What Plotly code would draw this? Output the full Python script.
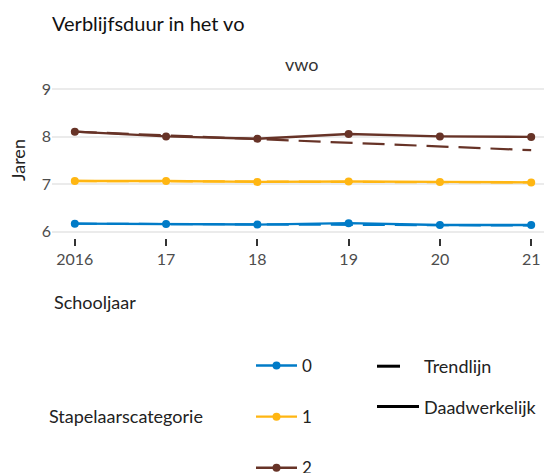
import plotly.graph_objects as go

years = [2016, 2017, 2018, 2019, 2020, 2021]
year_labels = ["2016", "17", "18", "19", "20", "21"]
categories = ["0", "1", "2"]
actual_0 = [6.17, 6.16, 6.15, 6.18, 6.14, 6.14]
actual_1 = [7.07, 7.07, 7.05, 7.06, 7.05, 7.04]
actual_2 = [8.11, 8.01, 7.96, 8.06, 8.01, 8.00]
trend_0 = [6.17, 6.16, 6.16, 6.15, 6.14, 6.13]
trend_1 = [7.07, 7.07, 7.06, 7.05, 7.05, 7.04]
trend_2 = [8.11, 8.03, 7.95, 7.87, 7.80, 7.72]
colors = ["#007BC7", "#FFB612", "#673327"]

FONT = "Lato"
W, H = 552, 473
L, R, T, B = 44, 6, 72, 243
PW, PH = W - L - R, H - T - B


def px(xp):
    return (xp - L) / PW


def py(yp):
    return (H - B - yp) / PH


fig = go.Figure()

actuals = [actual_0, actual_1, actual_2]
trends = [trend_0, trend_1, trend_2]

for i, cat in enumerate(categories):
    fig.add_trace(go.Scatter(
        x=years, y=trends[i], mode="lines",
        line=dict(color=colors[i], width=2.2, dash="22px,10px"),
        showlegend=False, hoverinfo="skip"))

for i, cat in enumerate(categories):
    fig.add_trace(go.Scatter(
        x=years, y=actuals[i], mode="lines+markers", name=cat,
        line=dict(color=colors[i], width=2.4),
        marker=dict(color=colors[i], size=8),
        legendgroup="g" + cat, legend="legend"))

fig.add_trace(go.Scatter(x=[None], y=[None], mode="lines", name="Trendlijn",
                         line=dict(color="black", width=3, dash="23px,40px"),
                         legend="legend2", legendgroup="t"))
fig.add_trace(go.Scatter(x=[None], y=[None], mode="lines", name="Daadwerkelijk",
                         line=dict(color="black", width=3),
                         legend="legend2", legendgroup="d"))

fig.update_layout(
    width=W, height=H,
    margin=dict(l=L, r=R, t=T, b=B, autoexpand=False),
    paper_bgcolor="white", plot_bgcolor="white",
    font=dict(family=FONT, size=16, color="#222"),
    title=dict(text="Verblijfsduur in het vo", x=L/W, xanchor="left",
               y=1 - 16/H, yanchor="middle", font=dict(size=20, color="#111")),
    xaxis=dict(range=[2015.75, 2021.25], tickvals=years, ticktext=year_labels,
               showgrid=False, zeroline=False, showline=False,
               ticks="outside", ticklen=7, tickwidth=2, tickcolor="#333",
               tickfont=dict(size=16, color="#4d4d4d"), automargin=False),
    yaxis=dict(range=[5.867, 9.2], tickvals=[6, 7, 8, 9],
               showgrid=True, gridcolor="#ebebeb", gridwidth=2,
               zeroline=False, showline=False, ticks="",
               tickfont=dict(size=16, color="#4d4d4d"), automargin=False),
    legend=dict(x=px(243), y=py(340),
                xanchor="left", yanchor="top", tracegroupgap=26,
                font=dict(size=17, color="#222"), itemwidth=41),
    legend2=dict(x=px(364), y=py(340),
                 xanchor="left", yanchor="top", tracegroupgap=14,
                 font=dict(size=18, color="#222"), itemwidth=42),
    annotations=[
        dict(text="vwo", xref="paper", yref="paper", x=px(294), y=py(56),
             showarrow=False, font=dict(size=18, color="#333"), xanchor="center", yanchor="middle"),
        dict(text="Jaren", xref="paper", yref="paper", x=px(10), y=py(152), textangle=-90,
             showarrow=False, font=dict(size=18, color="#222"), xanchor="center", yanchor="middle"),
        dict(text="Schooljaar", xref="paper", yref="paper", x=px(44), y=py(294),
             showarrow=False, xanchor="left", yanchor="middle", font=dict(size=18, color="#222")),
        dict(text="Stapelaarscategorie", xref="paper", yref="paper", x=px(39), y=py(408),
             showarrow=False, xanchor="left", yanchor="middle", font=dict(size=18, color="#222")),
    ],
)

fig.write_html("out.html")
